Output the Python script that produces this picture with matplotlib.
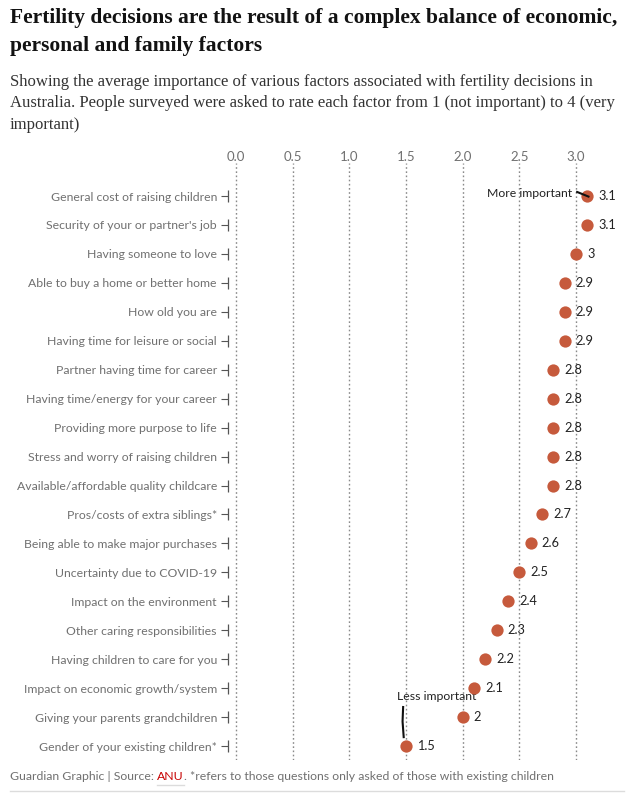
import matplotlib
matplotlib.use("Agg")
import matplotlib.pyplot as plt
from matplotlib.transforms import blended_transform_factory

# ---------------------------------------------------------------------------
# Donnees
# ---------------------------------------------------------------------------
factors = [
    "General cost of raising children",
    "Security of your or partner's job",
    "Having someone to love",
    "Able to buy a home or better home",
    "How old you are",
    "Having time for leisure or social",
    "Partner having time for career",
    "Having time/energy for your career",
    "Providing more purpose to life",
    "Stress and worry of raising children",
    "Available/affordable quality childcare",
    "Pros/costs of extra siblings*",
    "Being able to make major purchases",
    "Uncertainty due to COVID-19",
    "Impact on the environment",
    "Other caring responsibilities",
    "Having children to care for you",
    "Impact on economic growth/system",
    "Giving your parents grandchildren",
    "Gender of your existing children*",
]
importance = [3.1, 3.1, 3, 2.9, 2.9, 2.9, 2.8, 2.8, 2.8, 2.8, 2.8,
              2.7, 2.6, 2.5, 2.4, 2.3, 2.2, 2.1, 2, 1.5]
xticks = [0.0, 0.5, 1.0, 1.5, 2.0, 2.5, 3.0]

TITLE = ("Fertility decisions are the result of a complex balance of economic,\n"
         "personal and family factors")
SUBTITLE = ("Showing the average importance of various factors associated with fertility decisions in\n"
            "Australia. People surveyed were asked to rate each factor from 1 (not important) to 4 (very\n"
            "important)")

DOT = "#c65a3c"
GREY = "#707070"
SANS = "Lato"
SERIF = "Liberation Serif"

W, H = 634, 802
fig = plt.figure(figsize=(W / 100, H / 100), dpi=100)


def px(x, y):
    """Pixels (origine en haut a gauche) -> fraction de figure."""
    return x / W, 1 - y / H


# Titre / sous-titre
fig.text(*px(10, 8), TITLE, family=SERIF, weight="bold", fontsize=15.5,
         color="#121212", va="top", ha="left", linespacing=1.5)
fig.text(*px(10, 74), SUBTITLE, family=SERIF, fontsize=12.0,
         color="#333333", va="top", ha="left", linespacing=1.45)

# ---------------------------------------------------------------------------
# Axes
# ---------------------------------------------------------------------------
n = len(factors)
ys = list(range(n))
x0, x1 = -0.07, 3.3
ax = fig.add_axes([228 / W, 1 - 760 / H, (610 - 228) / W, (760 - 163) / H])
ax.set_xlim(x0, x1)
ax.set_ylim(n - 1 + 0.48, -1.14)

for t in xticks:
    ax.axvline(t, color="#8a8a8a", lw=1.0, ls=(0, (1.2, 1.8)), zorder=0)

ax.xaxis.tick_top()
ax.set_xticks(xticks)
ax.set_xticklabels([f"{t:.1f}" for t in xticks], family=SANS, fontsize=9.5,
                   color=GREY)
ax.tick_params(axis="x", length=0, pad=0)

ax.set_yticks(ys)
ax.set_yticklabels(factors, family=SANS, fontsize=8.8, color=GREY)
ax.tick_params(axis="y", length=5, width=0.8, color="#555555", pad=3)
for s in ax.spines.values():
    s.set_visible(False)

# petits segments verticaux au bout de chaque graduation
trans = blended_transform_factory(ax.transAxes, ax.transData)
ax.scatter([0] * n, ys, marker="|", s=70, lw=0.9, color="#555555",
           transform=trans, clip_on=False, zorder=3)

# Points + valeurs
ax.scatter(importance, ys, s=78, color=DOT, zorder=4, lw=0)
for v, y in zip(importance, ys):
    ax.annotate(f"{v:g}", (v, y), xytext=(8, 0), textcoords="offset points",
                va="center", ha="left", family=SANS, fontsize=9.2,
                color="#222222")

# Annotations
ax.text(2.97, -0.1, "More important", family=SANS, fontsize=8.8,
        color="#222222", ha="right", va="center")
ax.plot([3.01, 3.11], [-0.14, 0.02], color="#111111", lw=1.5, zorder=5)
ax.text(1.77, 17.3, "Less important", family=SANS, fontsize=8.8,
        color="#222222", ha="center", va="center")
ax.plot([1.475, 1.47, 1.48], [17.65, 18.15, 18.69], color="#111111", lw=1.5,
        zorder=5)

# ---------------------------------------------------------------------------
# Pied de page
# ---------------------------------------------------------------------------
fig.canvas.draw()
r = fig.canvas.get_renderer()
parts = [("Guardian Graphic | Source: ", GREY), ("ANU", "#c70000"),
         (". *refers to those questions only asked of those with existing children", GREY)]
xpos = 10
for txt, col in parts:
    t = fig.text(*px(xpos, 777), txt, family=SANS, fontsize=8.8, color=col,
                 va="center", ha="left")
    bb = t.get_window_extent(r)
    if txt == "ANU":
        fig.add_artist(plt.Line2D([xpos / W, (xpos + bb.width) / W],
                                  [1 - 785 / H] * 2, color="#dcdcdc", lw=1))
    xpos += bb.width

fig.add_artist(plt.Line2D([10 / W, 624 / W], [1 - 791 / H] * 2,
                          color="#dcdcdc", lw=1))

fig.savefig("out.png", dpi=100)
